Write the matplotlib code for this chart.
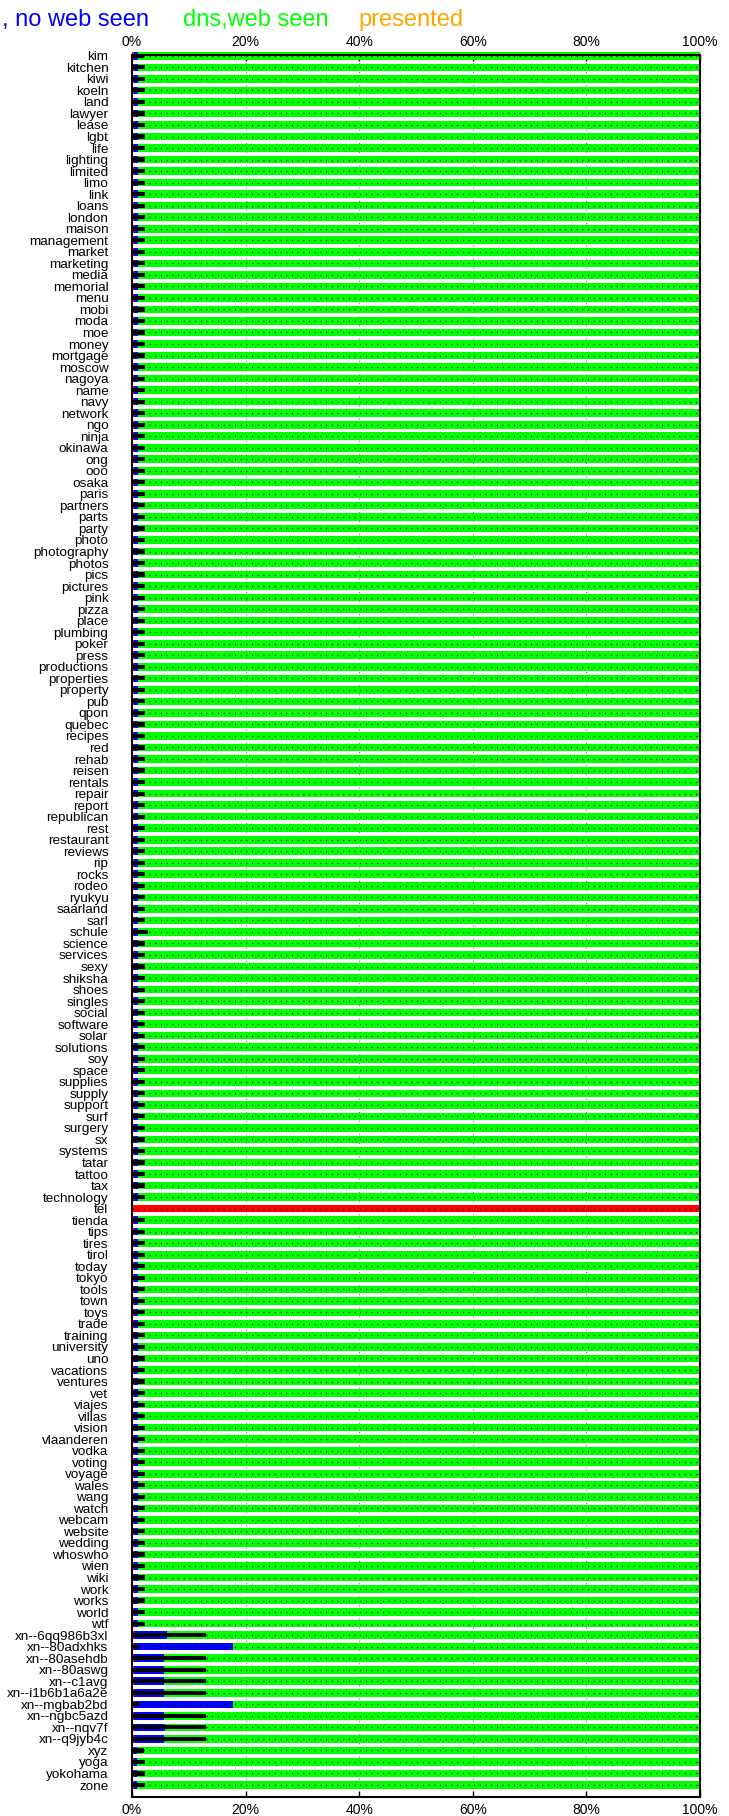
import matplotlib
matplotlib.use("Agg")
import matplotlib.pyplot as plt
from matplotlib.ticker import PercentFormatter

plt.rcParams['font.family'] = ['Liberation Sans', 'DejaVu Sans']

# --- data (percent of each TLD) ---
tlds = [
    "kim", "kitchen", "kiwi", "koeln", "land", "lawyer", "lease", "lgbt", "life", "lighting",
    "limited", "limo", "link", "loans", "london", "maison", "management", "market", "marketing", "media",
    "memorial", "menu", "mobi", "moda", "moe", "money", "mortgage", "moscow", "nagoya", "name",
    "navy", "network", "ngo", "ninja", "okinawa", "ong", "ooo", "osaka", "paris", "partners",
    "parts", "party", "photo", "photography", "photos", "pics", "pictures", "pink", "pizza", "place",
    "plumbing", "poker", "press", "productions", "properties", "property", "pub", "qpon", "quebec", "recipes",
    "red", "rehab", "reisen", "rentals", "repair", "report", "republican", "rest", "restaurant", "reviews",
    "rip", "rocks", "rodeo", "ryukyu", "saarland", "sarl", "schule", "science", "services", "sexy",
    "shiksha", "shoes", "singles", "social", "software", "solar", "solutions", "soy", "space", "supplies",
    "supply", "support", "surf", "surgery", "sx", "systems", "tatar", "tattoo", "tax", "technology",
    "tel", "tienda", "tips", "tires", "tirol", "today", "tokyo", "tools", "town", "toys",
    "trade", "training", "university", "uno", "vacations", "ventures", "vet", "viajes", "villas", "vision",
    "vlaanderen", "vodka", "voting", "voyage", "wales", "wang", "watch", "webcam", "website", "wedding",
    "whoswho", "wien", "wiki", "work", "works", "world", "wtf", "xn--6qq986b3xl", "xn--80adxhks", "xn--80asehdb",
    "xn--80aswg", "xn--c1avg", "xn--i1b6b1a6a2e", "xn--mgbab2bd", "xn--ngbc5azd", "xn--nqv7f", "xn--q9jyb4c", "xyz", "yoga", "yokohama",
    "zone",
]

red_pct = [
    0.3, 0.3, 0.3, 0.3, 0.3, 0.3, 0.3, 0.3, 0.3, 0.3,
    0.3, 0.3, 0.3, 0.3, 0.3, 0.3, 0.3, 0.3, 0.3, 0.3,
    0.3, 0.3, 0.3, 0.3, 0.3, 0.3, 0.3, 0.3, 0.3, 0.3,
    0.3, 0.3, 0.3, 0.3, 0.3, 0.3, 0.3, 0.3, 0.3, 0.3,
    0.3, 0.3, 0.3, 0.3, 0.3, 0.3, 0.3, 0.3, 0.3, 0.3,
    0.3, 0.3, 0.3, 0.3, 0.3, 0.3, 0.3, 0.3, 0.3, 0.3,
    0.3, 0.3, 0.3, 0.3, 0.3, 0.3, 0.3, 0.3, 0.3, 0.3,
    0.3, 0.3, 0.3, 0.3, 0.3, 0.3, 0.3, 0.3, 0.3, 0.3,
    0.3, 0.3, 0.3, 0.3, 0.3, 0.3, 0.3, 0.3, 0.3, 0.3,
    0.3, 0.3, 0.3, 0.3, 0.3, 0.3, 0.3, 0.3, 0.3, 0.3,
    100.0, 0.3, 0.3, 0.3, 0.3, 0.3, 0.3, 0.3, 0.3, 0.3,
    0.3, 0.3, 0.3, 0.3, 0.3, 0.3, 0.3, 0.3, 0.3, 0.3,
    0.3, 0.3, 0.3, 0.3, 0.3, 0.3, 0.3, 0.3, 0.3, 0.3,
    0.3, 0.3, 0.3, 0.3, 0.3, 0.3, 0.3, 0.3, 0.3, 0.3,
    0.3, 0.3, 0.3, 0.3, 0.3, 0.3, 0.3, 0.3, 0.3, 0.3,
    0.3,
]

blue_pct = [
    0.7, 0.7, 0.7, 0.7, 0.7, 0.7, 0.7, 0.7, 0.7, 0.7,
    0.7, 0.7, 0.7, 0.7, 0.7, 0.7, 0.7, 0.7, 0.7, 0.7,
    0.7, 0.7, 0.7, 0.7, 0.7, 0.7, 0.7, 0.7, 0.7, 0.7,
    0.7, 0.7, 0.7, 0.7, 0.7, 0.7, 0.7, 0.7, 0.7, 0.7,
    0.7, 0.7, 0.7, 0.7, 0.7, 0.7, 0.7, 0.7, 0.7, 0.7,
    0.7, 0.7, 0.7, 0.7, 0.7, 0.7, 0.7, 0.7, 0.7, 0.7,
    0.7, 0.7, 0.7, 0.7, 0.7, 0.7, 0.7, 0.7, 0.7, 0.7,
    0.7, 0.7, 0.7, 0.7, 0.7, 0.7, 0.7, 0.7, 0.7, 0.7,
    0.7, 0.7, 0.7, 0.7, 0.7, 0.7, 0.7, 0.7, 0.7, 0.7,
    0.7, 0.7, 0.7, 0.7, 0.7, 0.7, 0.7, 0.7, 0.7, 0.7,
    0.0, 0.7, 0.7, 0.7, 0.7, 0.7, 0.7, 0.7, 0.7, 0.7,
    0.7, 0.7, 0.7, 0.7, 0.7, 0.7, 0.7, 0.7, 0.7, 0.7,
    0.7, 0.7, 0.7, 0.7, 0.7, 0.7, 0.7, 0.7, 0.7, 0.7,
    0.7, 0.7, 0.7, 0.7, 0.7, 0.7, 0.7, 5.8, 17.5, 5.3,
    5.3, 5.3, 5.4, 17.4, 5.4, 5.5, 5.3, 0.6, 0.6, 0.6,
    0.6,
]

black_pct = [
    2.1, 2.2, 2.2, 2.3, 2.2, 2.2, 2.2, 2.3, 2.2, 2.2,
    2.2, 2.3, 2.2, 2.2, 2.2, 2.2, 2.2, 2.2, 2.2, 2.2,
    2.2, 2.2, 2.2, 2.2, 2.2, 2.2, 2.2, 2.2, 2.2, 2.2,
    2.2, 2.2, 2.2, 2.2, 2.2, 2.2, 2.2, 2.2, 2.2, 2.2,
    2.2, 2.2, 2.2, 2.2, 2.2, 2.2, 2.2, 2.2, 2.2, 2.2,
    2.2, 2.2, 2.2, 2.2, 2.2, 2.2, 2.2, 2.2, 2.2, 2.2,
    2.2, 2.2, 2.2, 2.2, 2.2, 2.2, 2.2, 2.2, 2.2, 2.2,
    2.2, 2.2, 2.2, 2.2, 2.2, 2.2, 2.8, 2.2, 2.2, 2.2,
    2.2, 2.2, 2.2, 2.2, 2.2, 2.2, 2.2, 2.2, 2.2, 2.2,
    2.2, 2.2, 2.2, 2.2, 2.2, 2.2, 2.2, 2.2, 2.2, 2.2,
    0.0, 2.2, 2.2, 2.2, 2.2, 2.2, 2.2, 2.2, 2.2, 2.2,
    2.2, 2.2, 2.2, 2.2, 2.2, 2.2, 2.2, 2.2, 2.2, 2.2,
    2.2, 2.2, 2.2, 2.2, 2.2, 2.2, 2.2, 2.2, 2.2, 2.2,
    2.2, 2.2, 2.2, 2.3, 2.3, 2.3, 2.2, 13.1, 1.3, 13.0,
    13.0, 13.0, 13.1, 1.3, 13.0, 13.1, 13.1, 2.1, 2.3, 2.3,
    2.3,
]

green_pct = [100 - r - b for r, b in zip(red_pct, blue_pct)]

legend_labels = [", no web seen", "dns,web seen", "presented"]
legend_colors = ["#0000ff", "#00ff00", "#ffa500"]
x_ticks = [0, 20, 40, 60, 80, 100]

fig = plt.figure(figsize=(7.29, 18.16), dpi=100)
ax = fig.add_axes([0.1811, 0.01046, 0.7791, 0.95925])

ypos = list(range(len(tlds)))
left_green = [r + b for r, b in zip(red_pct, blue_pct)]

ax.barh(ypos, red_pct, height=0.66, color="#ff0000", zorder=2, clip_on=False)
ax.barh(ypos, blue_pct, left=red_pct, height=0.66, color="#0000ff", zorder=2, clip_on=False)
ax.barh(ypos, green_pct, left=left_green, height=0.66, color="#00ff00", zorder=2, clip_on=False)
# dotted centre line running through every bar
ax.hlines(ypos, 0, 100, colors="black", linestyles=(0, (0.7, 3.4)), linewidth=1.0, zorder=3)
ax.barh(ypos, black_pct, height=0.36, color="black", zorder=4, clip_on=False)

ax.set_xlim(0, 100)
ax.set_ylim(151.04, -0.07)
ax.set_xticks(x_ticks)
ax.xaxis.set_major_formatter(PercentFormatter(decimals=0))
ax.set_yticks(ypos, tlds)

ax.xaxis.grid(True, linestyle=(0, (1, 3)), color="#808080", linewidth=0.8)
ax.tick_params(axis="x", direction="in", length=4, width=1, top=True, labeltop=True,
               bottom=True, labelbottom=True, pad=4, labelsize=10)
ax.tick_params(axis="y", length=0, pad=17, labelsize=9.7)
for s in ax.spines.values():
    s.set_linewidth(1.5)

# partial key across the top, as in the source image
legend_x = [0.003, 0.251, 0.491]
for txt, col, xf in zip(legend_labels, legend_colors, legend_x):
    fig.text(xf, 1 - 26 / 1816, txt, color=col, fontsize=17, va="baseline", ha="left")

fig.savefig("out.png", dpi=100)
